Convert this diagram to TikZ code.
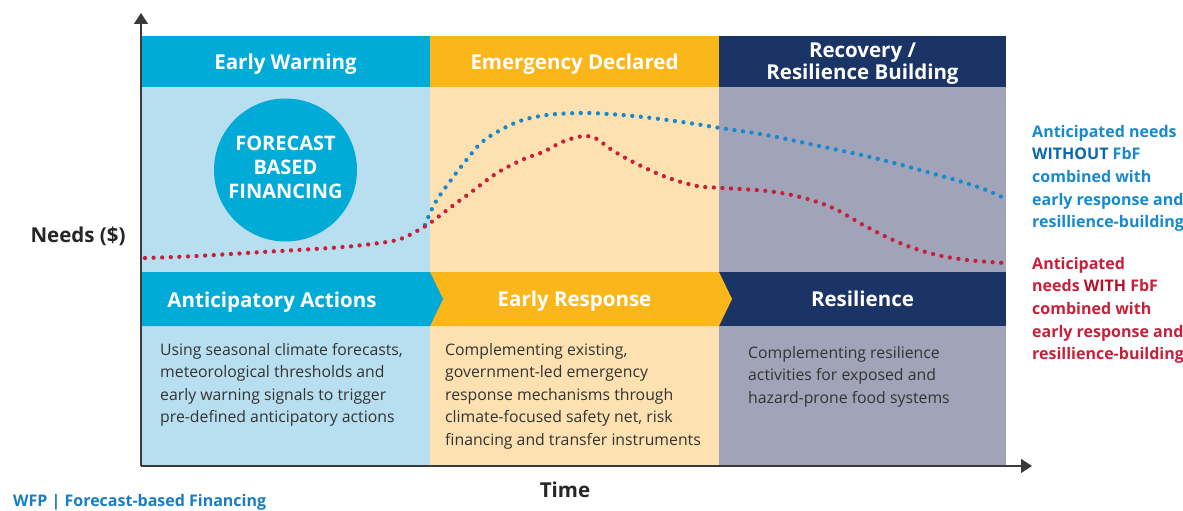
\documentclass[tikz,border=0pt]{standalone}
\usepackage{fontspec}
\setmainfont{Open Sans}
\usetikzlibrary{arrows.meta}
\definecolor{ewblue}{HTML}{00ACD7}
\definecolor{ewlight}{HTML}{B8DFF0}
\definecolor{emorange}{HTML}{FBB61A}
\definecolor{emlight}{HTML}{FDE1B1}
\definecolor{rcnavy}{HTML}{1A3565}
\definecolor{rcgrey}{HTML}{A1A3B8}
\definecolor{axisgrey}{HTML}{3A3A3A}
\definecolor{bodytext}{HTML}{333333}
\definecolor{curveblue}{HTML}{1689CF}
\definecolor{curveblued}{HTML}{0A67AE}
\definecolor{curvered}{HTML}{C8203A}
\definecolor{curvereddk}{HTML}{B0122B}
\definecolor{footblue}{HTML}{1A7CC1}
\tikzset{
  hdrtext/.style={text=white, font=\fontsize{20.5}{22}\selectfont\bfseries, inner sep=0pt, align=center},
  % multi-line nodes are anchored at the baseline of their last line
  bodybox/.style={text=bodytext, font=\fontsize{15.8}{22.5}\selectfont, inner sep=0pt, align=left, anchor=base west},
  sidelabel/.style={font=\fontsize{16}{22.7}\selectfont\bfseries, inner sep=0pt, align=left, anchor=base west},
  axislabel/.style={text=black!85, font=\fontsize{20.5}{22}\selectfont\bfseries, inner sep=0pt},
  dotcurve/.style={line width=4.3pt, line cap=round, dash pattern=on 0pt off 8.6pt},
  axisline/.style={draw=axisgrey, line width=1.4pt, -{Triangle[length=11pt,width=14pt]}}
}
\begin{document}
\begin{tikzpicture}[x=1pt,y=-1pt]
\useasboundingbox (0,0) rectangle (1183,511);
\clip (0,0) rectangle (1183,511);
\fill[white] (0,0) rectangle (1183,511);

% phase columns
\fill[ewlight] (141,36) rectangle (430,466);
\fill[emlight] (430,36) rectangle (719,466);
\fill[rcgrey]  (719,36) rectangle (1006,466);

% header bands
\fill[ewblue]   (141,36) rectangle (430,87);
\fill[emorange] (430,36) rectangle (719,87);
\fill[rcnavy]   (719,36) rectangle (1006,87);

% action chevrons
\fill[rcnavy]   (719,272) -- (1006,272) -- (1006,326) -- (719,326) -- cycle;
\fill[emorange] (430,272) -- (719,272) -- (732,299) -- (719,326) -- (430,326) -- cycle;
\fill[ewblue]   (141,272) -- (430,272) -- (443,299) -- (430,326) -- (141,326) -- cycle;

% forecast based financing badge
\fill[ewblue] (285.5,170) circle (71.5);
\node[hdrtext, font=\fontsize{20}{24}\selectfont\bfseries] (fbf) at (285.5,167) {FORECAST\\BASED\\FINANCING};

% header labels
\node[hdrtext, anchor=base] (ew) at (285.5,70) {Early Warning};
\node[hdrtext, anchor=base] (ed) at (574.5,70) {Emergency Declared};
\node[hdrtext, anchor=base, align=center] (rb) at (862.5,79) {Recovery /\\[-1pt]Resilience Building};

\node[hdrtext, anchor=base] (aa) at (272,307) {Anticipatory Actions};
\node[hdrtext, anchor=base] (er) at (574.5,306) {Early Response};
\node[hdrtext, anchor=base] (rs) at (862.5,306) {Resilience};

% descriptions
\node[bodybox] (aatext) at (160,422.5) {Using seasonal climate forecasts,\\meteorological thresholds and\\early warning signals to trigger\\pre-defined anticipatory actions};
\node[bodybox] (ertext) at (445,445) {Complementing existing,\\government-led emergency\\response mechanisms through\\climate-focused safety net, risk\\financing and transfer instruments};
\node[bodybox] (rstext) at (748,403) {Complementing resilience\\activities for exposed and\\hazard-prone food systems};

% needs curves
\draw[dotcurve, curveblue] plot[smooth, tension=0.6] coordinates {
  (425,225) (435,203) (451,180) (468,158) (481,143) (497,132) (520,121)
  (547,115) (581,113) (608,114) (643,117) (689,123) (720,128) (766,135)
  (824,147) (870,157) (920,170) (978,187) (1006,199)};
\draw[dotcurve, curvered] plot[smooth, tension=0.6] coordinates {
  (145,258) (197,256) (263,252) (330,248) (363,245) (397,240) (417,231)
  (430,223) (451,207) (470,193) (497,173) (524,159) (543,152) (562,142)
  (578,137) (587,136) (597,139) (612,150) (635,163) (666,177) (697,186)
  (723,188) (767,191) (800,197) (833,208) (867,227) (900,243) (933,254)
  (967,260) (1005,263)};

% axes
\coordinate (origin) at (141,466);
\coordinate (ytip) at (141,13);
\coordinate (xtip) at (1032,466);
\draw[axisline] (origin) -- (ytip);
\draw[axisline] (origin) -- (xtip);
\node[axislabel, anchor=base] (needs) at (78,242) {Needs (\$)};
\node[axislabel, anchor=base] (time) at (565,497) {Time};

% curve legend
\node[sidelabel, text=curveblue] (withoutlbl) at (1032,227.8)
  {Anticipated needs\\\textcolor{curveblued}{WITHOUT} FbF\\combined with\\early response and\\resillience-building};
\node[sidelabel, text=curvered] (withlbl) at (1032,359.8)
  {Anticipated\\needs \textcolor{curvereddk}{WITH} FbF\\combined with\\early response and\\resillience-building};

% footer
\node[font=\fontsize{16}{18}\selectfont\bfseries, text=footblue, inner sep=0pt, anchor=base west] (footer) at (13,506.5) {WFP | Forecast-based Financing};
\end{tikzpicture}
\end{document}
